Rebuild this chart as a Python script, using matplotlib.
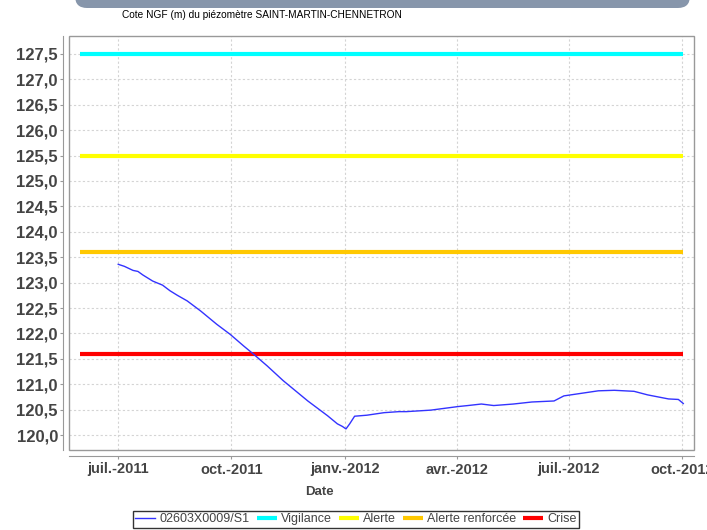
#!/usr/bin/env python3

import matplotlib
matplotlib.use("Agg")
import matplotlib.pyplot as plt
import matplotlib.dates as mdates
from matplotlib.patches import Rectangle, FancyBboxPatch
from matplotlib.ticker import MultipleLocator, FuncFormatter
from datetime import datetime

# Niveaux du piézomètre
dates = ["2011-07-01", "2011-07-06", "2011-07-13", "2011-07-17", "2011-07-21", "2011-07-29",
         "2011-08-06", "2011-08-12", "2011-08-18", "2011-08-26", "2011-09-06", "2011-09-19",
         "2011-09-30", "2011-10-11", "2011-10-19", "2011-10-30", "2011-11-12", "2011-12-02",
         "2011-12-18", "2011-12-26", "2011-12-30", "2012-01-02", "2012-01-05", "2012-01-09",
         "2012-01-19", "2012-02-02", "2012-02-14", "2012-02-20", "2012-03-11", "2012-04-02",
         "2012-04-10", "2012-04-21", "2012-05-01", "2012-05-17", "2012-06-01", "2012-06-19",
         "2012-06-27", "2012-07-11", "2012-07-25", "2012-08-07", "2012-08-23", "2012-09-03",
         "2012-09-20", "2012-09-28", "2012-10-02"]
niveaux = [123.36, 123.32, 123.24, 123.22, 123.15, 123.03,
           122.95, 122.84, 122.75, 122.64, 122.44, 122.18,
           121.98, 121.75, 121.59, 121.36, 121.07, 120.67,
           120.38, 120.22, 120.17, 120.12, 120.22, 120.37,
           120.39, 120.44, 120.46, 120.46, 120.49, 120.56,
           120.58, 120.61, 120.58, 120.61, 120.65, 120.67,
           120.77, 120.82, 120.87, 120.88, 120.86, 120.79,
           120.71, 120.70, 120.62]

# Seuils
seuils_noms = ["Vigilance", "Alerte", "Alerte renforcée", "Crise"]
seuils_valeurs = [127.5, 125.5, 123.6, 121.6]
seuils_couleurs = ["#00ffff", "#ffff00", "#ffc800", "#ff0000"]
seuils_debut = "2011-05-31"
seuils_fin = "2012-10-02"

mois_ticks = ["2011-07-01", "2011-10-01", "2012-01-01", "2012-04-01", "2012-07-01", "2012-10-01"]
mois_labels = ["juil.-2011", "oct.-2011", "janv.-2012", "avr.-2012", "juil.-2012", "oct.-2012"]

to_dt = lambda s: datetime.strptime(s, "%Y-%m-%d")

fig = plt.figure(figsize=(7.07, 5.30), dpi=100)
ax = fig.add_axes([69 / 707, 1 - 450 / 530, 625 / 707, 414 / 530])

# Seuils
for nom, val, col in zip(seuils_noms, seuils_valeurs, seuils_couleurs):
    ax.plot([to_dt(seuils_debut), to_dt(seuils_fin)], [val, val], color=col,
            lw=3.0, solid_capstyle="butt", label=nom, zorder=3)

# Série piézométrique
ax.plot([to_dt(d) for d in dates], niveaux, color="#3333ff", lw=1.0,
        label="02603X0009/S1", zorder=4)

# Axes
x0 = mdates.date2num(to_dt("2011-07-01")) - 40.0
x1 = mdates.date2num(to_dt("2012-10-01")) + 9.7
ax.set_xlim(x0, x1)
ax.set_ylim(119.705, 127.854)
ax.yaxis.set_major_locator(MultipleLocator(0.5))
ax.yaxis.set_major_formatter(FuncFormatter(lambda v, p: f"{v:.1f}".replace(".", ",")))
ax.set_xticks([to_dt(m) for m in mois_ticks])
ax.set_xticklabels(mois_labels)

ax.grid(True, color="#d4d4d4", linestyle=(0, (2, 2)), lw=0.8, zorder=0)

for s in ["top", "right"]:
    ax.spines[s].set_visible(False)
for s in ["left", "bottom"]:
    ax.spines[s].set_position(("outward", 4))
    ax.spines[s].set_color("#999999")
ax.add_patch(Rectangle((0, 0), 1, 1, transform=ax.transAxes, fill=False,
                       edgecolor="#999999", lw=1.0, clip_on=False, zorder=5))

ax.tick_params(axis="both", direction="out", length=2, width=0.8, color="#999999",
               labelcolor="#444444")
for lab in ax.get_yticklabels():
    lab.set_fontfamily("Liberation Sans")
    lab.set_fontweight("bold")
    lab.set_fontsize(12)
for lab in ax.get_xticklabels():
    lab.set_fontfamily("Liberation Sans")
    lab.set_fontweight("bold")
    lab.set_fontsize(10.5)
ax.tick_params(axis="y", pad=2)
ax.tick_params(axis="x", pad=3)

# Titre et étiquette
fig.text(262 / 707, 1 - 15 / 530, "Cote NGF (m) du piézomètre SAINT-MARTIN-CHENNETRON",
         ha="center", va="center", fontsize=7.3, family="Liberation Sans", color="black")
fig.text(319 / 707, 1 - 492 / 530, "Date", ha="center", va="center", fontsize=9.5,
         family="Liberation Sans", fontweight="bold", color="#444444")

# Bandeau en haut
fig.patches.append(FancyBboxPatch((75, 522), 615, 30, boxstyle="round,pad=0,rounding_size=12",
                                  transform=None, facecolor="#8796ab", edgecolor="none",
                                  figure=fig))

# Légende
h, l = ax.get_legend_handles_labels()
order = [4, 0, 1, 2, 3]
leg = fig.legend([h[i] for i in order], [l[i] for i in order], loc="center",
                 bbox_to_anchor=(356 / 707, 1 - 519 / 530), ncol=5, frameon=True,
                 fancybox=False, edgecolor="black", handlelength=1.6,
                 handletextpad=0.3, columnspacing=0.6, borderpad=0.2,
                 prop={"family": "Liberation Sans", "size": 9})
leg.get_frame().set_linewidth(1.0)
for t in leg.get_texts():
    t.set_color("#444444")

fig.savefig("out.png", dpi=100)
